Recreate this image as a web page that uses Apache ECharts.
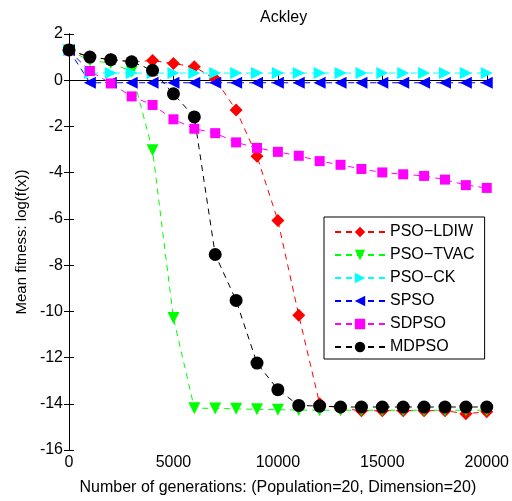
<!DOCTYPE html>
<html><head><meta charset="utf-8">
<script src="https://cdn.jsdelivr.net/npm/echarts@6/dist/echarts.min.js"></script>
<style>html,body{margin:0;padding:0;background:#fff}#c{width:512px;height:501px}</style>
</head><body><div id="c"></div>
<script>
const generations = [0,1000,2000,3000,4000,5000,6000,7000,8000,9000,10000,11000,12000,13000,14000,15000,16000,17000,18000,19000,20000];
const psoLdiw = [1.3,1.0,0.9,0.8,0.85,0.72,0.58,0.05,-1.29,-3.29,-6.07,-10.17,-14.0,-14.2,-14.3,-14.3,-14.3,-14.3,-14.3,-14.43,-14.35];
const psoTvac = [1.3,0.85,0.75,0.38,-3.03,-10.29,-14.19,-14.2,-14.22,-14.24,-14.26,-14.27,-14.28,-14.28,-14.28,-14.28,-14.28,-14.28,-14.28,-14.28,-14.28];
const psoCk = [1.3,0.31,0.31,0.31,0.31,0.31,0.31,0.31,0.31,0.31,0.31,0.31,0.31,0.31,0.31,0.31,0.31,0.31,0.31,0.31,0.31];
const spso = [1.3,-0.11,-0.11,-0.11,-0.11,-0.11,-0.11,-0.11,-0.11,-0.11,-0.11,-0.11,-0.11,-0.11,-0.11,-0.11,-0.11,-0.11,-0.11,-0.11,-0.11];
const sdpso = [1.3,0.4,-0.14,-0.7,-1.07,-1.69,-2.1,-2.29,-2.69,-2.93,-3.1,-3.27,-3.5,-3.66,-3.84,-3.99,-4.07,-4.14,-4.3,-4.54,-4.66];
const mdpso = [1.31,1.0,0.89,0.8,0.43,-0.59,-1.59,-7.54,-9.53,-12.24,-13.39,-14.07,-14.1,-14.14,-14.14,-14.14,-14.14,-14.14,-14.14,-14.14,-14.14];
const xTicks = {min:0,max:20000,interval:5000};
const yTicks = {min:-16,max:2,interval:2};

const F = 'Liberation Sans, Arial, sans-serif';
function pairs(arr){ return generations.map((g,i)=>[g,arr[i]]); }
function mk(name, arr, color, symbol, size, rot){
  return {name, type:'line', data:pairs(arr), symbol, symbolSize:size, symbolRotate:rot||0,
    itemStyle:{color}, lineStyle:{color, width:1, type:[6,5]}, showSymbol:true, animation:false};
}
const chart = echarts.init(document.getElementById('c'));
const axisLine = {show:true, lineStyle:{color:'#000', width:1}};
const plain = v => String(v);
chart.setOption({
  backgroundColor:'#fff',
  animation:false,
  title:{text:'Ackley', left:255, top:5, textStyle:{fontFamily:F, fontSize:16, fontWeight:'normal', color:'#000'}},
  grid:{left:69, right:23, top:34, bottom:49},
  xAxis:[
    {type:'value', min:xTicks.min, max:xTicks.max, interval:xTicks.interval, position:'bottom',
     name:'Number of generations: (Population=20, Dimension=20)', nameLocation:'middle', nameGap:30,
     nameTextStyle:{fontFamily:F, fontSize:16, color:'#000'},
     axisLine, axisTick:{inside:true, length:5, lineStyle:{color:'#000'}},
     axisLabel:{fontFamily:F, fontSize:16, color:'#000', margin:5, formatter:plain}, splitLine:{show:false}},
    {type:'value', min:xTicks.min, max:xTicks.max, interval:xTicks.interval, position:'top',
     axisLine, axisTick:{inside:true, length:5, lineStyle:{color:'#000'}},
     axisLabel:{show:false}, splitLine:{show:false}}
  ],
  yAxis:[
    {type:'value', min:yTicks.min, max:yTicks.max, interval:yTicks.interval, position:'left',
     name:'Mean fitness: log(f(x))', nameLocation:'middle', nameGap:39,
     nameTextStyle:{fontFamily:F, fontSize:15, color:'#000'},
     axisLine, axisTick:{inside:true, length:5, lineStyle:{color:'#000'}},
     axisLabel:{fontFamily:F, fontSize:16, color:'#000', margin:6, formatter:plain}, splitLine:{show:false}},
    {type:'value', min:yTicks.min, max:yTicks.max, interval:yTicks.interval, position:'right',
     axisLine, axisTick:{inside:true, length:5, lineStyle:{color:'#000'}},
     axisLabel:{show:false}, splitLine:{show:false}}
  ],
  legend:{orient:'vertical', left:324, top:217, width:155, itemWidth:50, itemHeight:13, itemGap:7,
    padding:[7,10,4,10],
    backgroundColor:'#fff', borderColor:'#000', borderWidth:1, borderRadius:0,
    textStyle:{fontFamily:F, fontSize:16, color:'#000'},
    data:['PSO\u2212LDIW','PSO\u2212TVAC','PSO\u2212CK','SPSO','SDPSO','MDPSO']},
  series:[
    mk('PSO\u2212LDIW', psoLdiw, '#ff0000', 'diamond', 13),
    mk('PSO\u2212TVAC', psoTvac, '#00ff00', 'triangle', 12, 180),
    mk('PSO\u2212CK', psoCk, '#00ffff', 'triangle', 12, -90),
    mk('SPSO', spso, '#0000ff', 'triangle', 12, 90),
    mk('SDPSO', sdpso, '#ff00ff', 'rect', 10),
    mk('MDPSO', mdpso, '#000000', 'circle', 13)
  ]
});
</script></body></html>
